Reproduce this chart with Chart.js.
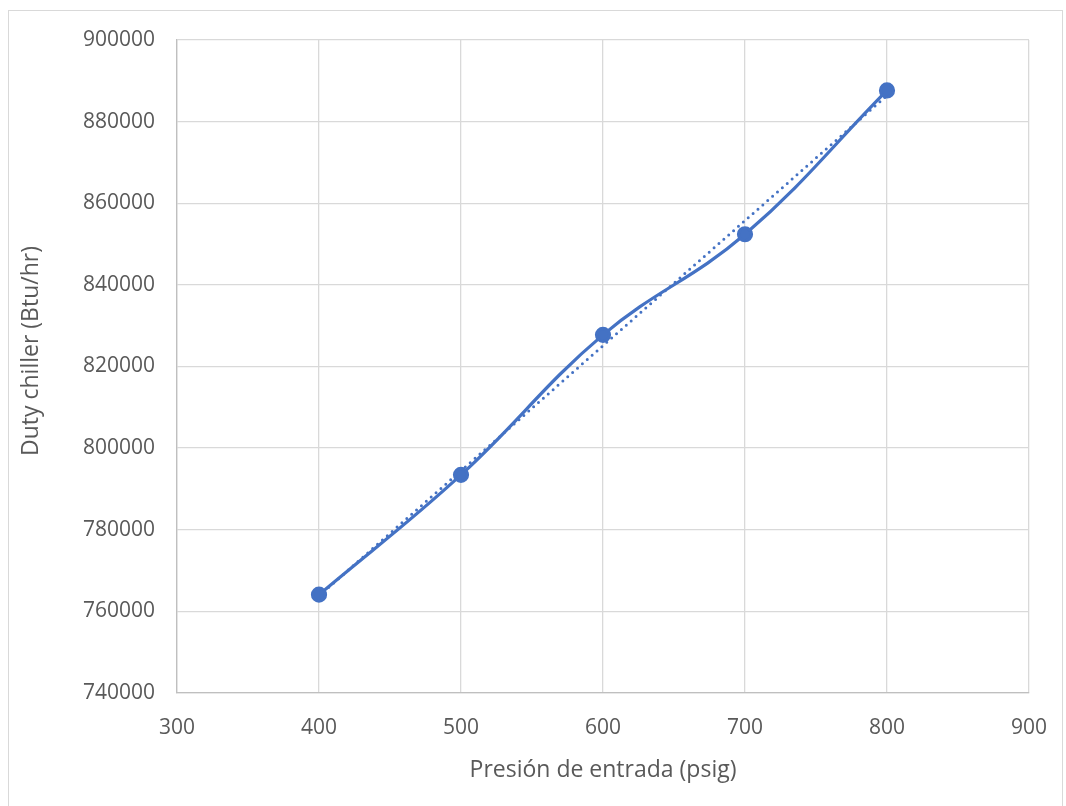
<!DOCTYPE html>
<html>
<head>
<meta charset="utf-8">
<script src="https://cdn.jsdelivr.net/npm/chart.js@4"></script>
<style>
  html, body { margin: 0; padding: 0; background: #fff; }
  #wrap { position: relative; width: 1066px; height: 806px; }
  #frame { position: absolute; left: 8px; top: 10px; width: 1055px; height: 810px; border: 1px solid #d9d9d9; box-sizing: border-box; }
  canvas { position: absolute; left: 0; top: 0; }
</style>
</head>
<body>
<div id="wrap">
  <div id="frame"></div>
  <canvas id="chart" width="1066" height="806"></canvas>
</div>
<script>
// Data
const presion = [400, 500, 600, 700, 800];
const duty = [764100, 793450, 827750, 852400, 887650];
// Linear trendline end points (dotted line)
const trendX = [400, 800];
const trendY = [763800, 886400];

const xTicks = [300, 400, 500, 600, 700, 800, 900];
const yMin = 740000, yMax = 900000, yStep = 20000;

const yTitle = "Duty chiller (Btu/hr)";

const blue = "#4472C4";
const grid = "#d9d9d9";
const textColor = "#595959";
const font = "'Open Sans', sans-serif";

// y axis title drawn by hand so it can sit where Excel put it
const yTitlePlugin = {
  id: "yTitle",
  afterDraw(chart) {
    const c = chart.ctx;
    c.save();
    c.translate(31, 351);
    c.rotate(-Math.PI / 2);
    c.fillStyle = textColor;
    c.font = "23px " + font;
    c.textAlign = "center";
    c.textBaseline = "middle";
    c.fillText(yTitle, 0, 0);
    c.restore();
  }
};

const ctx = document.getElementById("chart").getContext("2d");
new Chart(ctx, {
  type: "scatter",
  data: {
    datasets: [
      {
        label: "Duty",
        data: presion.map((x, i) => ({ x: x, y: duty[i] })),
        showLine: true,
        borderColor: blue,
        backgroundColor: blue,
        borderWidth: 3.2,
        tension: 0.4,
        pointRadius: 6.5,
        pointHoverRadius: 6.5,
        order: 1
      },
      {
        label: "Tendencia",
        data: trendX.map((x, i) => ({ x: x, y: trendY[i] })),
        showLine: true,
        borderColor: blue,
        borderWidth: 3,
        borderDash: [0, 6.5],
        borderCapStyle: "round",
        pointRadius: 0,
        order: 2
      }
    ]
  },
  options: {
    responsive: false,
    animation: false,
    layout: { padding: { left: 10, right: 37, top: 40, bottom: 22 } },
    plugins: { legend: { display: false }, tooltip: { enabled: false } },
    scales: {
      x: {
        type: "linear",
        min: 300,
        max: 900,
        afterBuildTicks: (scale) => { scale.ticks = xTicks.map(v => ({ value: v })); },
        afterFit: (scale) => {
          scale.height = 91;
          scale.paddingLeft = 0;
          scale.paddingRight = 0;
        },
        grid: { color: grid, lineWidth: 1.3, drawTicks: false },
        border: { color: "#bfbfbf", width: 1.3 },
        ticks: { color: textColor, font: { family: font, size: 21 }, padding: 22 },
        title: {
          display: true,
          text: "Presión de entrada (psig)",
          color: textColor,
          font: { family: font, size: 23 },
          padding: { top: 4, bottom: 0 }
        }
      },
      y: {
        min: yMin,
        max: yMax,
        ticks: {
          stepSize: yStep,
          color: textColor,
          font: { family: font, size: 21 },
          padding: 22,
          callback: (v) => String(v)
        },
        afterFit: (scale) => {
          scale.width = 167;
          scale.paddingTop = 0;
          scale.paddingBottom = 0;
        },
        grid: { color: grid, lineWidth: 1.3, drawTicks: false },
        border: { color: "#bfbfbf", width: 1.3 }
      }
    }
  },
  plugins: [yTitlePlugin]
});
</script>
</body>
</html>
